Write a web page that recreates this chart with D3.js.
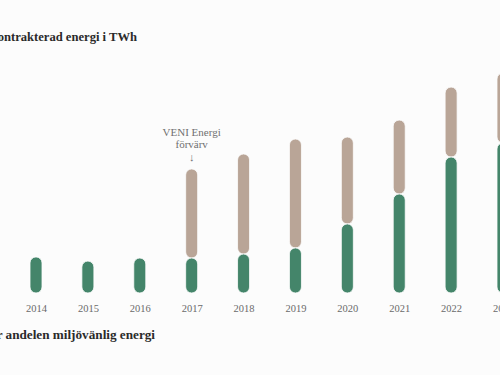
<!DOCTYPE html>
<html>
<head>
<meta charset="utf-8">
<script src="https://cdn.jsdelivr.net/npm/d3@7"></script>
<style>
  body { margin: 0; background: #fcfcfc; }
  svg { display: block; }
</style>
</head>
<body>
<div id="chart"></div>
<script>
// Data (TWh)
const years = [2014, 2015, 2016, 2017, 2018, 2019, 2020, 2021, 2022, 2023];
const green = [1.64, 1.45, 1.59, 1.59, 1.77, 2.05, 3.14, 4.5, 6.18, 6.82];
const other = [0, 0, 0, 4.05, 4.55, 4.95, 3.95, 3.36, 3.18, 3.18];

const width = 500, height = 375;

const svg = d3.select("#chart")
    .append("svg")
    .attr("width", width)
    .attr("height", height);

const x = d3.scalePoint()
    .domain(years)
    .range([36, 503]);

const y = d3.scaleLinear()
    .domain([0, 10])
    .range([293, 73]);

const barW = 12;
const green_c = "#44856a", tan_c = "#b9a597";

// Title (clipped at left edge like the original)
svg.append("text")
    .attr("x", 137).attr("y", 41)
    .attr("text-anchor", "end")
    .style("font-family", "Liberation Serif, serif")
    .style("font-weight", "bold")
    .style("font-size", "12.6px")
    .style("fill", "#2a2a2a")
    .text("Kontrakterad energi i TWh");

// Draw tan part first, then green on top
const data = years.map((d, i) => ({ yr: d, g: green[i], o: other[i] }));

svg.append("g")
    .selectAll("rect")
    .data(data.filter(d => d.o > 0))
    .join("rect")
    .attr("x", d => x(d.yr) - barW / 2)
    .attr("y", d => y(d.g + d.o))
    .attr("width", barW)
    .attr("height", d => y(d.g) - y(d.g + d.o))
    .attr("rx", barW / 2)
    .attr("fill", tan_c)
    .attr("stroke", "#fcfcfc")
    .attr("stroke-width", 0.8);

svg.append("g")
    .selectAll("rect")
    .data(data)
    .join("rect")
    .attr("x", d => x(d.yr) - barW / 2)
    .attr("y", d => y(d.g))
    .attr("width", barW)
    .attr("height", d => y(0) - y(d.g))
    .attr("rx", barW / 2)
    .attr("fill", green_c)
    .attr("stroke", "#fcfcfc")
    .attr("stroke-width", 0.8);

// Year labels
const xAxis = svg.append("g")
    .attr("transform", "translate(0,293)")
    .call(d3.axisBottom(x).tickSize(0).tickPadding(12));
xAxis.select(".domain").remove();
xAxis.selectAll("text")
    .style("font-family", "Liberation Serif, serif")
    .style("font-size", "10.5px")
    .style("fill", "#6a6a6a");

// Annotation
const ann = svg.append("g")
    .style("font-family", "Liberation Serif, serif")
    .style("font-size", "11px")
    .style("fill", "#707070")
    .attr("text-anchor", "middle");
ann.append("text").attr("x", x(2017)).attr("y", 136).text("VENI Energi");
ann.append("text").attr("x", x(2017)).attr("y", 148).text("förvärv");
ann.append("text").attr("x", x(2017)).attr("y", 161).text("↓");

// Bottom note (clipped at left edge)
svg.append("text")
    .attr("x", 155).attr("y", 339)
    .attr("text-anchor", "end")
    .style("font-family", "Liberation Serif, serif")
    .style("font-weight", "bold")
    .style("font-size", "13.2px")
    .style("fill", "#2a2a2a")
    .text("Grönt står för andelen miljövänlig energi");
</script>
</body>
</html>
